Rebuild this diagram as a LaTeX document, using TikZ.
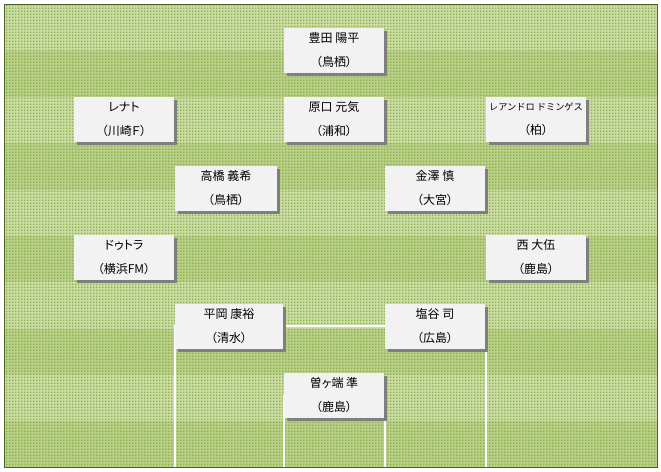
\documentclass[tikz,border=0pt]{standalone}
\usepackage{fontspec}
\newfontfamily\jp[RawFeature=+palt]{Noto Sans CJK JP}
\newfontfamily\jpw{Noto Sans CJK JP}
\usetikzlibrary{shadows,patterns.meta}
\definecolor{fieldlight}{HTML}{CADCA4}
\definecolor{fielddark}{HTML}{B8CF88}
\definecolor{fielddot}{HTML}{8CAF4C}
\definecolor{fieldborder}{HTML}{4F6228}
\definecolor{cardfill}{HTML}{F2F2F2}
\definecolor{cardshadow}{HTML}{7F7F7F}
\tikzdeclarepattern{name=turfdots, type=uncolored,
  bounding box={(0pt,0pt) and (3pt,3pt)}, tile size={(3pt,3pt)},
  code={\fill (0pt,0pt) rectangle (1.8pt,1.8pt);}}
\begin{document}
\begin{tikzpicture}[x=1pt,y=-1pt,
  card/.style={rectangle, fill=cardfill, minimum width=100pt, minimum height=45pt,
    inner sep=0pt, align=center, font=\jp\fontsize{12}{24}\selectfont,
    drop shadow={shadow xshift=3pt, shadow yshift=-3pt, fill=cardshadow, opacity=1}},
  fieldline/.style={draw=white, line width=1.5pt}]
\useasboundingbox (0,0) rectangle (661,471);
\fill[white] (0,0) rectangle (661,471);
% turf stripes
\foreach \i in {0,2,...,8}
  \fill[fieldlight] (4.5,{4.5+46.3*\i}) rectangle (657.5,{4.5+46.3*(\i+1)});
\foreach \i in {1,3,...,9}
  \fill[fielddark] (4.5,{4.5+46.3*\i}) rectangle (657.5,{4.5+46.3*(\i+1)});
\fill[pattern={turfdots}, pattern color=fielddot] (4.5,4.5) rectangle (657.5,467.5);
% penalty area and goal area
\draw[fieldline] (175,467) -- (175,326) -- (486,326) -- (486,467);
\draw[fieldline] (284,467) -- (284,396) -- (385,396) -- (385,467);
% players
\node[card] (toyoda)    at (334,50.5)  {豊田 陽平\\（鳥栖）};
\node[card] (renato)    at (124,119.5) {レナト\\（川崎Ｆ）};
\node[card] (haraguchi) at (334,119.5) {原口 元気\\（浦和）};
\node[card] (leandro)   at (536,119.5) {{\jpw\fontsize{9.2}{24}\selectfont レアンドロ ドミンゲス}\\（柏）};
\node[card, minimum width=102pt] (takahashi) at (226,188.5) {高橋 義希\\（鳥栖）};
\node[card] (kanazawa)  at (435,188.5) {金澤 慎\\（大宮）};
\node[card] (dutra)     at (124,257.5) {ドゥトラ\\（横浜FM）};
\node[card] (nishi)     at (536,257.5) {西 大伍\\（鹿島）};
\node[card, minimum width=108pt] (hiraoka) at (229,326.5) {平岡 康裕\\（清水）};
\node[card] (shiotani)  at (435,326.5) {塩谷 司\\（広島）};
\node[card] (sogahata)  at (334,395.5) {曽ヶ端 準\\（鹿島）};
% border
\draw[fieldborder, line width=1.5pt] (4.5,4.5) rectangle (657.5,467.5);
\end{tikzpicture}
\end{document}
